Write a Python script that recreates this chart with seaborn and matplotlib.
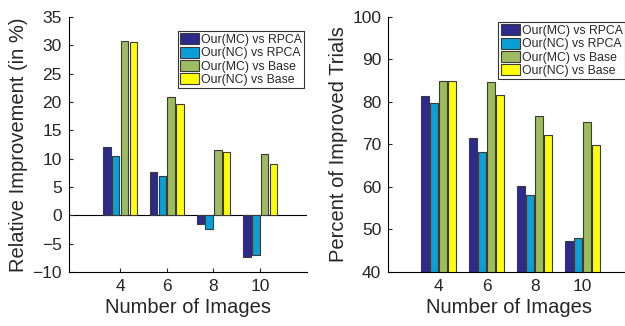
import numpy as np
import pandas as pd
import matplotlib
matplotlib.use("Agg")
import matplotlib.pyplot as plt
import seaborn as sns

# ── Data ───────────────────────────────────────────────────────
n_images = ["4", "6", "8", "10"]
series = ["Our(MC) vs RPCA", "Our(NC) vs RPCA", "Our(MC) vs Base", "Our(NC) vs Base"]

rel_mc_rpca = [12.0, 7.6, -1.6, -7.3]
rel_nc_rpca = [10.5, 6.9, -2.4, -7.0]
rel_mc_base = [30.7, 20.8, 11.6, 10.8]
rel_nc_base = [30.5, 19.7, 11.2, 9.0]

pct_mc_rpca = [81.5, 71.5, 60.2, 47.3]
pct_nc_rpca = [79.7, 68.2, 58.2, 47.9]
pct_mc_base = [85.0, 84.7, 76.8, 75.2]
pct_nc_base = [85.0, 81.6, 72.1, 69.9]

colors = ["#2c2a8a", "#0a9fd6", "#9dbb61", "#ffff00"]


def to_long(cols):
    rows = []
    for name, vals in zip(series, cols):
        for n, v in zip(n_images, vals):
            rows.append({"n": n, "series": name, "value": v})
    return pd.DataFrame(rows)


df_rel = to_long([rel_mc_rpca, rel_nc_rpca, rel_mc_base, rel_nc_base])
df_pct = to_long([pct_mc_rpca, pct_nc_rpca, pct_mc_base, pct_nc_base])

sns.set_style("white")
plt.rcParams["font.family"] = ["Liberation Sans", "DejaVu Sans"]

fig = plt.figure(figsize=(6.25, 3.26), dpi=100)
ax1 = fig.add_axes([0.110, 0.166, 0.381, 0.782])
ax2 = fig.add_axes([0.621, 0.166, 0.388, 0.782])


def draw(ax, df, ylabel, ylim, yticks, xlim, legend_kw):
    sns.barplot(data=df, x="n", y="value", hue="series", order=n_images,
                hue_order=series, palette=colors, width=0.75, gap=0.15,
                edgecolor="#3a3a3a", linewidth=0.8, saturation=1,
                ax=ax, errorbar=None)
    ax.set_xlim(*xlim)
    ax.set_ylim(*ylim)
    ax.set_yticks(yticks)
    ax.set_xlabel("Number of Images", fontsize=14.5, labelpad=3)
    ax.set_ylabel(ylabel, fontsize=14.5, labelpad=3)
    ax.tick_params(axis="both", labelsize=12.5, direction="in", length=3,
                   left=True, bottom=True, pad=5)
    ax.spines[["top", "right"]].set_visible(False)
    for s in ["left", "bottom"]:
        ax.spines[s].set_color("black")
        ax.spines[s].set_linewidth(0.8)
    leg = ax.legend(fontsize=8.8, frameon=True, fancybox=False,
                    handlelength=1.55, handleheight=1.0, handletextpad=0.15,
                    labelspacing=0.05, borderpad=0.2, borderaxespad=0,
                    **legend_kw)
    leg.get_frame().set_edgecolor("black")
    leg.get_frame().set_linewidth(0.8)


draw(ax1, df_rel, "Relative Improvement (in %)", (-10, 35),
     np.arange(-10, 36, 5), (-1.1, 4.0),
     dict(loc="upper right", bbox_to_anchor=(0.99, 0.945)))
ax1.axhline(0, color="black", linewidth=0.8, zorder=0.5)

draw(ax2, df_pct, "Percent of Improved Trials", (40, 100),
     np.arange(40, 101, 10), (-1.05, 4.0),
     dict(loc="upper left", bbox_to_anchor=(0.455, 0.98)))

fig.savefig("out.png", dpi=100)
